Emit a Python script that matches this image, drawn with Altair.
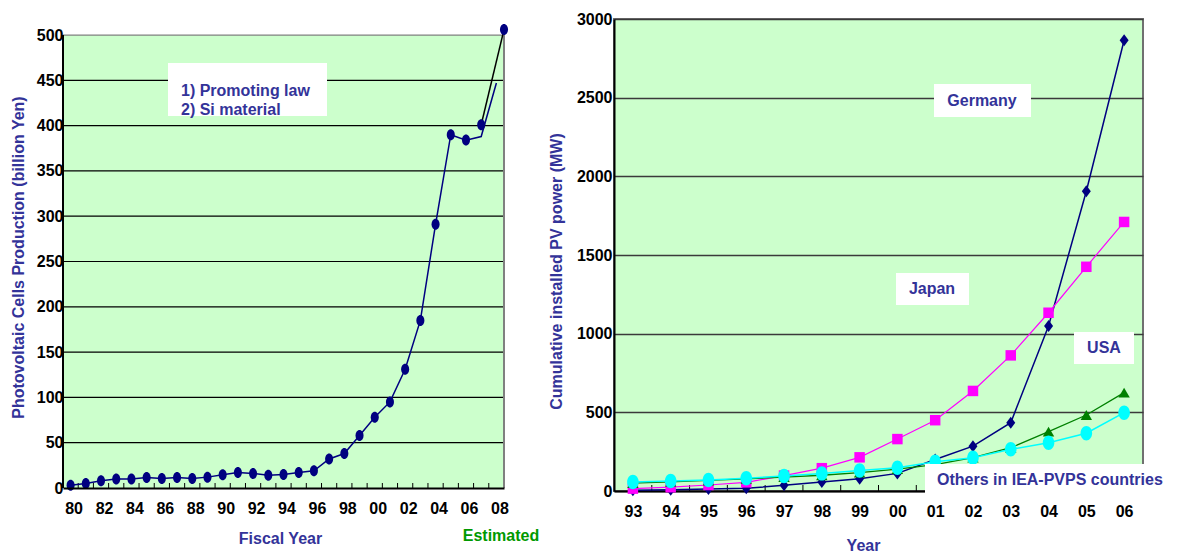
import altair as alt
import pandas as pd

FONT = "Liberation Sans"
INK = "#333399"
NAVY = "#000080"
PANEL = "#CCFFCC"

# ---- Japanese photovoltaic cell production by fiscal year (billion yen) ----
fy_years = list(range(1980, 2009))
production = [3, 5, 8, 10, 10, 11.5, 10.5, 11.5, 10.5, 12, 14.5, 17, 16, 14, 15, 17,
              19, 32, 38, 58, 78, 95, 131, 185, 291, 390, 384, 388, 447]
last_actual_year = 2006
estimate_years = [2007, 2008.5]
estimate_values = [401, 506]
production_ticks = list(range(0, 501, 50))
fy_label_years = list(range(1980, 2009, 2))
note_lines = ["1) Promoting law", "2) Si material"]

# ---- cumulative installed PV power in IEA-PVPS countries (MW) ----
pv_years = list(range(1993, 2007))
germany = [5, 8, 12, 17, 36, 57, 78, 112, 200, 285, 434, 1049, 1905, 2865]
japan = [15, 24, 38, 55, 98, 145, 214, 330, 450, 636, 862, 1133, 1425, 1710]
usa = [50, 58, 67, 77, 88, 100, 117, 139, 168, 212, 275, 377, 483, 625]
others = [57, 64, 70, 81, 95, 112, 131, 148, 186, 212, 265, 307, 367, 498]
power_ticks = list(range(0, 3001, 500))

# marker outlines (unit box -1..1)
ELLIPSE_NARROW = "M0,-1A0.73,1,0,1,1,0,1A0.73,1,0,1,1,0,-1Z"
ELLIPSE_WIDE = "M0,-1A0.8,1,0,1,1,0,1A0.8,1,0,1,1,0,-1Z"
DIAMOND = "M0,-1L0.75,0L0,1L-0.75,0Z"

one = pd.DataFrame({"_": [0]})

axis_text = dict(labelFont=FONT, labelFontSize=16, labelFontWeight="bold",
                 labelColor="black", titleFont=FONT, titleFontSize=16,
                 titleFontWeight="bold", titleColor=INK)


def boxed_text(text, x0, x1, y0, y1, tx, ty, align="center", line_height=19):
    box = alt.Chart(one).mark_rect(color="white").encode(
        x=alt.value(x0), x2=alt.value(x1), y=alt.value(y0), y2=alt.value(y1))
    label = alt.Chart(one).mark_text(
        text=text, align=align, baseline="middle", font=FONT, fontSize=16,
        fontWeight="bold", color=INK, lineHeight=line_height,
    ).encode(x=alt.value(tx), y=alt.value(ty))
    return [box, label]


# ================= left panel =================
LW, LH = 441, 469
x_lo, x_hi = fy_years[0] - 0.5, fy_years[-1] + 0.5
y_top = production_ticks[-1]
left_y_max = 517.7  # headroom above the frame for the estimated 2008 point

xs = alt.Scale(domain=[x_lo, x_hi], nice=False, zero=False)
ys = alt.Scale(domain=[0, left_y_max], nice=False, zero=True)

XA = alt.Axis(values=fy_label_years, format="d", labelExpr="substring(datum.label, 2)",
              ticks=False, tickSize=0, grid=False, domainColor="black", domainWidth=2,
              labelPadding=12, labelOffset=3, title="Fiscal Year", titleX=217, titleY=50,
              titleBaseline="middle", titleAlign="center", zindex=1, **axis_text)
YA = alt.Axis(values=production_ticks, format="d", grid=False, domain=False, ticks=False,
              tickSize=0, labelPadding=0,
              title="Photovoltaic Cells Production  (billion Yen)",
              titleX=-45, titleY=238, titleBaseline="middle", titleAlign="center",
              titleAngle=-90, zindex=1, **axis_text)


def lx(field=None, **kw):
    if field is None:
        return alt.X(scale=xs, axis=XA, type="quantitative", **kw)
    return alt.X(field, type="quantitative", scale=xs, axis=XA, **kw)


def ly(field=None, **kw):
    if field is None:
        return alt.Y(scale=ys, axis=YA, type="quantitative", **kw)
    return alt.Y(field, type="quantitative", scale=ys, axis=YA, **kw)


prod_df = pd.DataFrame({"year": fy_years, "value": production})
est_df = pd.DataFrame({"year": estimate_years, "value": estimate_values})
frame_df = pd.DataFrame({"x0": [x_lo], "x1": [x_hi], "y0": [0], "y1": [y_top]})
grid_df = pd.DataFrame({"v": production_ticks[1:]})
bound_df = pd.DataFrame({"b": [y + 0.5 for y in fy_years[:-1]]})

background = alt.Chart(frame_df).mark_rect(color=PANEL).encode(
    x=lx("x0"), x2="x1:Q", y=ly("y0"), y2="y1:Q")

gridlines = alt.Chart(grid_df).mark_rule(strokeWidth=1.2).encode(
    x=lx(datum=x_lo), x2=alt.X2(datum=x_hi), y=ly("v"),
    color=alt.condition(f"datum.v == {y_top}", alt.value("#808080"), alt.value("#000000")),
)

left_edge = alt.Chart(frame_df).mark_rule(color="black", strokeWidth=2).encode(
    x=lx("x0"), y=ly("y0"), y2="y1:Q")
right_edge = alt.Chart(frame_df).mark_rule(color="#808080", strokeWidth=2).encode(
    x=lx("x1"), y=ly("y0"), y2="y1:Q")

left_ticks = alt.Chart(bound_df).mark_rule(color="black", strokeWidth=1).encode(
    x=lx("b"), y=alt.value(LH), y2=alt.value(LH - 5))

prod_line = alt.Chart(prod_df).mark_line(color=NAVY, strokeWidth=1.5).encode(
    x=lx("year"), y=ly("value"))
prod_points = alt.Chart(prod_df).transform_filter(
    f"datum.year <= {last_actual_year}"
).mark_point(shape=ELLIPSE_NARROW, size=121, filled=True, color=NAVY, opacity=1).encode(
    x=lx("year"), y=ly("value"))

est_line = alt.Chart(est_df).mark_line(color="black", strokeWidth=1.5).encode(
    x=lx("year"), y=ly("value"))
est_points = alt.Chart(est_df).mark_point(
    shape=ELLIPSE_NARROW, size=121, filled=True, color=NAVY, opacity=1).encode(
    x=lx("year"), y=ly("value"))

estimated_label = alt.Chart(one).mark_text(
    text="Estimated", align="center", baseline="middle", font=FONT, fontSize=16,
    fontWeight="bold", color="#009900").encode(x=alt.value(438), y=alt.value(517))

left = alt.layer(
    background, gridlines, left_ticks, left_edge, right_edge,
    prod_line, prod_points, est_line, est_points,
    *boxed_text(note_lines, 105, 264, 44, 97, 118, 71.5, align="left"),
    estimated_label,
).properties(width=LW, height=LH)

# ================= right panel =================
RW, RH = 529, 472
xs2 = alt.Scale(domain=[pv_years[0] - 0.5, pv_years[-1] + 0.5], nice=False, zero=False)
ys2 = alt.Scale(domain=[power_ticks[0], power_ticks[-1]], nice=False)

XA2 = alt.Axis(values=pv_years, format="d", labelExpr="substring(datum.label, 2)",
               ticks=False, tickSize=0, grid=False, domainColor="black",
               domainWidth=2, labelPadding=12, title="Year", titleX=249,
               titleY=54, titleBaseline="middle", titleAlign="center", **axis_text)
YA2 = alt.Axis(values=power_ticks, format="d", grid=True, gridColor="#3a3a3a",
               gridWidth=1.5, domainColor="black", domainWidth=2, ticks=False,
               tickSize=0, labelPadding=2, title="Cumulative installed PV power (MW)",
               titleX=-58, titleY=252, titleBaseline="middle", titleAlign="center",
               titleAngle=-90, **axis_text)

series = [
    ("Germany", germany, NAVY, DIAMOND, 144, 1.5),
    ("Japan", japan, "#FF00FF", "square", 110, 1.2),
    ("USA", usa, "#008000", "triangle-up", 130, 1.3),
    ("Others in IEA-PVPS countries", others, "#00FFFF", ELLIPSE_WIDE, 210, 1.5),
]

pv_bounds = pd.DataFrame({"b": [y + 0.5 for y in pv_years[:-1]]})
right_layers = [
    alt.Chart(pv_bounds).mark_rule(color="black", strokeWidth=1).encode(
        x=alt.X("b:Q", scale=xs2, axis=XA2), y=alt.value(RH), y2=alt.value(RH - 6)),
]
for name, vals, col, shape, size, width in series:
    df = pd.DataFrame({"year": pv_years, "value": vals})
    xenc = alt.X("year:Q", scale=xs2, axis=XA2)
    yenc = alt.Y("value:Q", scale=ys2, axis=YA2)
    right_layers.append(alt.Chart(df).mark_line(color=col, strokeWidth=width).encode(x=xenc, y=yenc))
    right_layers.append(alt.Chart(df).mark_point(
        shape=shape, size=size, filled=True, color=col, opacity=1).encode(x=xenc, y=yenc))

right_layers += boxed_text("Germany", 320, 417, 65, 98, 368, 82)
right_layers += boxed_text("Japan", 282, 355, 254, 286, 318, 270)
right_layers += boxed_text("USA", 460, 520, 313, 345, 490, 329)
right_layers += boxed_text("Others in IEA-PVPS countries", 311, 566, 445, 474, 323, 461, align="left")

right = alt.layer(*right_layers).properties(
    width=RW, height=RH,
    view=alt.ViewBackground(fill=PANEL, stroke="#707070", strokeWidth=2),
)

chart = alt.hconcat(left, right, spacing=110, bounds="flush").properties(
    padding={"left": 10, "top": 10, "right": 0, "bottom": 0}
).configure_view(strokeWidth=0)

chart.save("out.html", embed_options={"renderer": "svg", "actions": False})
